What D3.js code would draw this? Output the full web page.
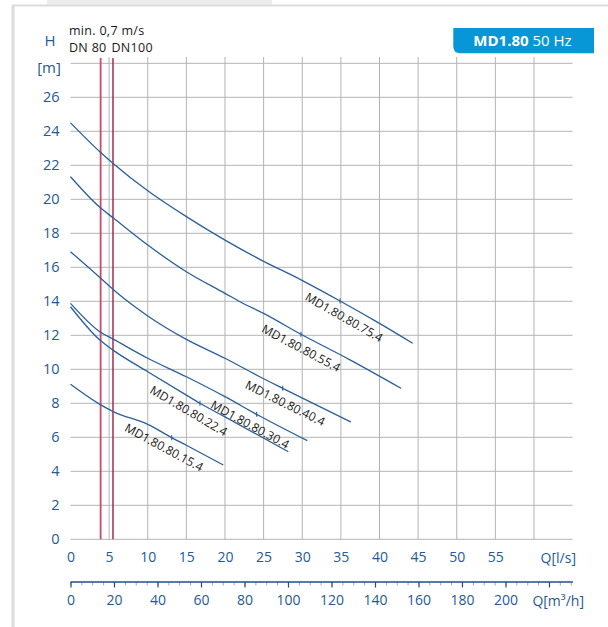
<!DOCTYPE html>
<html><head><meta charset="utf-8">
<script src="https://cdn.jsdelivr.net/npm/d3@7"></script>
<style>
body{margin:0;background:#fff}
svg{display:block;font-family:"Open Sans",sans-serif}
</style>
</head><body>
<svg id="chart" width="608" height="627"></svg>
<script>
// ---------- data ----------
const models = ["MD1.80.80.75.4","MD1.80.80.55.4","MD1.80.80.40.4","MD1.80.80.30.4","MD1.80.80.22.4","MD1.80.80.15.4"];
const q75 = [0,3.8,5.6,10,15,20,24.5,29.9,34.9,40,44.3];
const h75 = [24.5,22.8,22.08,20.5,18.98,17.6,16.47,15.25,14.02,12.7,11.53];
const q55 = [0,3.8,5.6,10,15,20,22,25,29.83,36,42.8];
const h55 = [21.33,19.53,18.88,17.31,15.74,14.47,13.96,13.29,12.06,10.6,8.88];
const q40 = [0,3.8,5.6,7.1,10,15,20,24.5,27.47,36.3];
const h40 = [16.92,15.4,14.66,14.1,13.14,11.76,10.65,9.56,8.88,6.9];
const q30 = [0,3.8,5.6,10,15,20,24.5,30.65];
const h30 = [13.88,12.21,11.76,10.65,9.56,8.39,7.25,5.8];
const q22 = [0,3.8,5.6,10,15,16.76,20,28.2];
const h22 = [13.68,11.72,11.1,9.86,8.48,8.0,7.2,5.15];
const q15 = [0,3.8,5.6,10,13.1,15,19.78];
const h15 = [9.12,7.94,7.5,6.76,5.98,5.53,4.37];
const curveQ = [q75,q55,q40,q30,q22,q15];
const curveH = [h75,h55,h40,h30,h22,h15];
const markQ = [34.9,29.83,27.47,24.1,16.76,13.1];
const labelQ = [36.2,30.6,28.5,24.0,16.1,12.85];

const yTicks = [0,2,4,6,8,10,12,14,16,18,20,22,24,26,28];
const yTickLabels = [0,2,4,6,8,10,12,14,16,18,20,22,24,26];
const xGrid = [5,10,15,20,25,30,35,40,45,50,55,60];
const xTickLabels = [0,5,10,15,20,25,30,35,40,45,50,55];
const m3hMajor = [0,20,40,60,80,100,120,140,160,180,200,220];
const m3hLabels = [0,20,40,60,80,100,120,140,160,180,200];
const m3hMinor = d3.range(0,231,5);
const minVelQ = [3.9,5.5];   // DN 80, DN100 at 0.7 m/s

// ---------- scales ----------
const x = d3.scaleLinear().domain([0,65]).range([70.5,572.6]);
const y = d3.scaleLinear().domain([0,28]).range([539.3,63.3]);
const xm = d3.scaleLinear().domain([0,231]).range([70.5,572.9]);

const svg = d3.select("#chart");
const blue = "#245a94";

// frame
svg.append("rect").attr("x",47).attr("y",0).attr("width",225).attr("height",6).attr("fill","#ececec");
svg.append("line").attr("x1",12).attr("x2",608).attr("y1",5.5).attr("y2",5.5).attr("stroke","#dcdcdc").attr("stroke-width",2);
svg.append("line").attr("x1",13).attr("x2",13).attr("y1",5).attr("y2",627).attr("stroke","#dcdcdc").attr("stroke-width",3);

// grid
const g = svg.append("g");
g.selectAll(".hg").data(yTicks).join("line")
  .attr("x1",x(0)).attr("x2",x(65)).attr("y1",d=>y(d)).attr("y2",d=>y(d))
  .attr("stroke","#b4b4b4").attr("stroke-width",1);
g.selectAll(".vg").data(xGrid).join("line")
  .attr("x1",d=>x(d)).attr("x2",d=>x(d)).attr("y1",57).attr("y2",y(0))
  .attr("stroke","#b4b4b4").attr("stroke-width",1);

// min velocity lines
const redCols = ["#cc4a6a","#a01d3e"];
const redW = [1.8,1.4];
svg.selectAll(".red").data(minVelQ).join("line")
  .attr("x1",d=>x(d)).attr("x2",d=>x(d)).attr("y1",58).attr("y2",y(0))
  .attr("stroke",(d,i)=>redCols[i]).attr("stroke-width",(d,i)=>redW[i]);

// y axis labels
const yAxis = d3.axisLeft(y).tickValues(yTickLabels).tickSize(0).tickPadding(11).tickFormat(d3.format("d"));
const ya = svg.append("g").attr("transform",`translate(${x(0)},0)`).call(yAxis);
ya.select(".domain").remove();
ya.selectAll("text").attr("fill",blue).style("font-size","14.5px").style("font-family","'Open Sans',sans-serif");

// x axis labels (l/s)
const xAxis = d3.axisBottom(x).tickValues(xTickLabels).tickSize(0).tickPadding(12.3).tickFormat(d3.format("d"));
const xa = svg.append("g").attr("transform",`translate(0,${y(0)})`).call(xAxis);
xa.select(".domain").remove();
xa.selectAll("text").attr("fill",blue).style("font-size","14px").style("font-family","'Open Sans',sans-serif");

// m3/h axis
const mAxisMinor = d3.axisBottom(xm).tickValues(m3hMinor).tickSize(3.5).tickSizeOuter(0).tickFormat("");
const ma0 = svg.append("g").attr("transform","translate(0,582)").call(mAxisMinor);
ma0.select(".domain").remove();
ma0.selectAll(".tick line").attr("stroke","#a9a9a9");
const mAxis = d3.axisBottom(xm).tickValues(m3hMajor).tickSize(5.5).tickSizeOuter(0).tickPadding(8)
  .tickFormat(d=>m3hLabels.includes(d)?d:"");
const ma = svg.append("g").attr("transform","translate(0,582)").call(mAxis);
ma.select(".domain").attr("stroke","#1f4f86").attr("stroke-width",1.3).attr("d",`M${xm(0)},0H${xm(231)}`);
ma.selectAll(".tick line").attr("stroke","#1f4f86").attr("stroke-width",1.2);
ma.selectAll("text").attr("fill",blue).style("font-size","14px").style("font-family","'Open Sans',sans-serif");

// axis titles
svg.append("text").attr("x",576).attr("y",563).attr("text-anchor","end").attr("fill",blue).style("font-size","14px").text("Q[l/s]");
svg.append("text").attr("x",584).attr("y",606).attr("text-anchor","end").attr("fill",blue).style("font-size","14px")
  .text("Q[m³/h]");
svg.append("text").attr("x",50).attr("y",46).attr("text-anchor","middle").attr("fill",blue).style("font-size","15px").text("H");
svg.append("text").attr("x",49).attr("y",73).attr("text-anchor","middle").attr("fill",blue).style("font-size","15px").text("[m]");
svg.append("text").attr("x",69).attr("y",35).attr("fill","#1a1a1a").style("font-size","12.5px").style("letter-spacing","0.3px").text("min. 0,7 m/s");
svg.append("text").attr("x",69).attr("y",51.5).attr("fill","#1a1a1a").style("font-size","12.5px").style("letter-spacing","0.3px").text("DN 80");
svg.append("text").attr("x",111.5).attr("y",51.5).attr("fill","#1a1a1a").style("font-size","12.5px").style("letter-spacing","0.3px").text("DN100");

// title box
const bx0=453.3,bx1=594,by0=28,by1=53.3,r=7;
svg.append("path").attr("d",`M${bx0},${by0}H${bx1}V${by1}H${bx0+r}Q${bx0},${by1} ${bx0},${by1-r}Z`).attr("fill","#0897d6");
const tt = svg.append("text").attr("x",522.5).attr("y",46.3).attr("text-anchor","middle").attr("fill","#fff").style("font-size","15px");
tt.append("tspan").attr("font-weight","bold").text("MD1.80");
tt.append("tspan").text(" 50 Hz");

// curves
const line = d3.line().x(d=>x(d[0])).y(d=>y(d[1])).curve(d3.curveMonotoneX);
const curveColor = "#2a5f9d";
models.forEach((m,i)=>{
  const pts = curveQ[i].map((q,j)=>[q,curveH[i][j]]);
  svg.append("path").attr("d",line(pts)).attr("fill","none").attr("stroke",curveColor).attr("stroke-width",1.3);
  const hAt = d3.scaleLinear().domain(curveQ[i]).range(curveH[i]);
  const mq = markQ[i];
  svg.append("line").attr("x1",x(mq)).attr("x2",x(mq)).attr("y1",y(hAt(mq))-2.5).attr("y2",y(hAt(mq))+2.5)
    .attr("stroke",curveColor).attr("stroke-width",1.1);
  const lq = labelQ[i];
  const ang = Math.atan2(y(hAt(lq+1.5))-y(hAt(lq-1.5)), x(lq+1.5)-x(lq-1.5))*180/Math.PI;
  svg.append("text")
    .attr("transform",`translate(${x(lq)},${y(hAt(lq))}) rotate(${ang})`)
    .attr("x",0).attr("y",12.3).attr("dy","0.35em").attr("text-anchor","middle")
    .attr("fill","#1a1a1a").style("font-size","12px").text(m);
});
</script>
</body></html>
